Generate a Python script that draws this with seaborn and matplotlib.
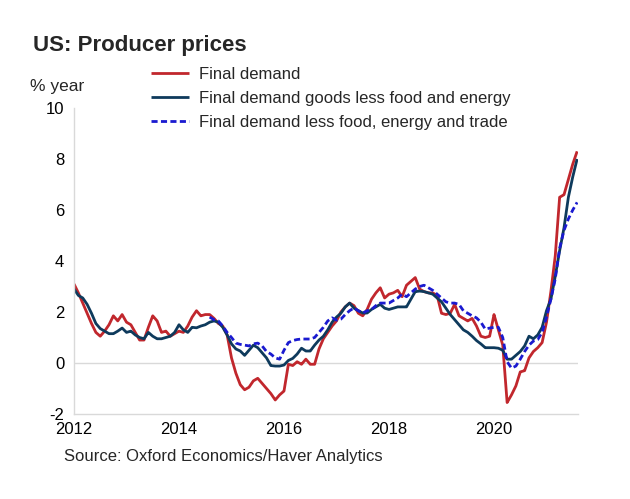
import numpy as np
import pandas as pd
import matplotlib
matplotlib.use("Agg")
import matplotlib.pyplot as plt
import seaborn as sns

# ===============================
# Data (% year, monthly from Jan 2012)
# ===============================

start_year = 2012

final_demand = [
    3.1, 2.75, 2.35, 1.95, 1.55, 1.2, 1.05, 1.25, 1.5, 1.85, 1.65, 1.9,
    1.6, 1.5, 1.2, 0.9, 0.9, 1.4, 1.85, 1.65, 1.2, 1.25, 1.05, 1.15,
    1.25, 1.2, 1.45, 1.8, 2.05, 1.85, 1.9, 1.9, 1.75, 1.55, 1.45, 1.1,
    0.2, -0.4, -0.85, -1.05, -0.95, -0.7, -0.6, -0.8, -1.0, -1.2, -1.45, -1.25,
    -1.1, -0.05, -0.1, 0.05, -0.05, 0.15, -0.05, -0.05, 0.55, 0.95, 1.2, 1.45,
    1.65, 2.0, 2.2, 2.35, 2.25, 1.95, 1.85, 2.1, 2.5, 2.75, 2.95, 2.55,
    2.7, 2.75, 2.85, 2.6, 3.05, 3.2, 3.35, 2.9, 2.8, 2.75, 2.75, 2.65,
    1.95, 1.9, 1.95, 2.3, 1.85, 1.75, 1.65, 1.75, 1.45, 1.05, 1.0, 1.05,
    1.9, 1.3, 0.7, -1.55, -1.25, -0.9, -0.35, -0.3, 0.2, 0.45, 0.6, 0.8,
    1.6, 2.8, 4.2, 6.5, 6.6, 7.2, 7.8, 8.3,
]

goods_less_food_energy = [
    2.9, 2.65, 2.55, 2.3, 1.95, 1.55, 1.35, 1.25, 1.15, 1.15, 1.25, 1.37,
    1.2, 1.25, 1.1, 1.0, 0.95, 1.2, 1.05, 0.95, 0.95, 1.0, 1.05, 1.2,
    1.5, 1.3, 1.2, 1.4, 1.38, 1.45, 1.5, 1.6, 1.65, 1.6, 1.4, 1.1,
    0.75, 0.55, 0.47, 0.3, 0.5, 0.7, 0.6, 0.4, 0.2, -0.1, -0.12, -0.12,
    -0.08, 0.1, 0.18, 0.35, 0.58, 0.47, 0.47, 0.7, 0.9, 1.05, 1.3, 1.6,
    1.8, 1.95, 2.2, 2.35, 2.15, 2.05, 1.96, 1.96, 2.1, 2.2, 2.3, 2.15,
    2.1, 2.15, 2.2, 2.2, 2.2, 2.5, 2.8, 2.82, 2.8, 2.75, 2.7, 2.55,
    2.4, 2.15, 1.9, 1.7, 1.5, 1.3, 1.2, 1.05, 0.88, 0.75, 0.6, 0.6,
    0.6, 0.58, 0.5, 0.15, 0.15, 0.3, 0.45, 0.67, 1.05, 0.95, 1.1, 1.4,
    2.05, 2.5, 3.4, 4.4, 5.3, 6.5, 7.3, 8.0,
]

# series begins in Aug 2014
trade_start_month = 31
less_food_energy_trade = [
    1.8, 1.7, 1.65, 1.45, 1.2,
    1.0, 0.78, 0.73, 0.7, 0.67, 0.75, 0.78, 0.67, 0.45, 0.35, 0.2, 0.15,
    0.5, 0.8, 0.88, 0.92, 0.94, 0.94, 0.94, 1.0, 1.2, 1.4, 1.65, 1.77,
    1.68, 1.72, 1.9, 2.05, 2.16, 2.05, 1.96, 2.05, 2.1, 2.25, 2.35, 2.35,
    2.35, 2.45, 2.55, 2.7, 2.6, 2.75, 2.9, 3.0, 3.05, 2.95, 2.85, 2.7,
    2.55, 2.4, 2.35, 2.35, 2.3, 2.05, 1.95, 1.85, 1.77, 1.6, 1.33, 1.37,
    1.4, 1.4, 1.0, 0.05, -0.2, -0.12, 0.15, 0.45, 0.7, 0.86, 0.92, 1.2,
    1.8, 2.5, 3.3, 4.5, 5.2, 5.65, 6.0, 6.3,
]

series_names = [
    "Final demand",
    "Final demand goods less food and energy",
    "Final demand less food, energy and trade",
]
colors = ["#c1272d", "#0e3a5c", "#1a1ad0"]

x_ticks = [2012, 2014, 2016, 2018, 2020]
y_ticks = [-2, 0, 2, 4, 6, 8, 10]

# ===============================
# Build table
# ===============================

def to_frame(values, first_month, name):
    months = np.arange(first_month, first_month + len(values))
    return pd.DataFrame({
        "date": start_year + months / 12,
        "value": values,
        "series": name,
    })

df = pd.concat([
    to_frame(final_demand, 0, series_names[0]),
    to_frame(goods_less_food_energy, 0, series_names[1]),
    to_frame(less_food_energy_trade, trade_start_month, series_names[2]),
])

# ===============================
# Plot
# ===============================

sns.set_theme(style="white")
plt.rcParams["font.family"] = ["Liberation Sans", "DejaVu Sans"]

fig = plt.figure(figsize=(6.3, 4.99), dpi=100)
ax = fig.add_axes([74 / 630, 1 - 414 / 499, 504 / 630, 306 / 499])

ax.axhline(0, color="#d9d9d9", lw=1, zorder=0)

sns.lineplot(
    data=df,
    x="date",
    y="value",
    hue="series",
    style="series",
    hue_order=series_names,
    style_order=series_names,
    palette=colors,
    dashes=[(1, 0), (1, 0), (2.2, 1.2)],
    linewidth=2,
    ax=ax,
    legend=False,
)

ax.set_xlim(2012, 2021.6)
ax.set_ylim(-2, 10)
ax.set_xticks(x_ticks)
ax.set_xticklabels([str(t) for t in x_ticks])
ax.set_yticks(y_ticks)
ax.set_yticklabels([str(t) for t in y_ticks])
ax.tick_params(axis="both", length=0, labelsize=12, colors="#000000")
ax.tick_params(axis="y", pad=7)
ax.tick_params(axis="x", pad=6)
ax.set_xlabel("")
ax.set_ylabel("")

for side in ["top", "right"]:
    ax.spines[side].set_visible(False)
for side in ["left", "bottom"]:
    ax.spines[side].set_color("#d9d9d9")
    ax.spines[side].set_linewidth(1)

handles = [ax.lines[i + 1] for i in range(3)]
fig.legend(
    handles,
    series_names,
    loc="upper left",
    bbox_to_anchor=(144 / 630, 1 - 60 / 499),
    frameon=False,
    fontsize=12,
    handlelength=2.3,
    handletextpad=0.6,
    labelspacing=0.55,
    borderaxespad=0,
)

fig.text(33 / 630, 1 - 45 / 499, "US: Producer prices",
         fontsize=16, fontweight="bold", va="center")
fig.text(30 / 630, 1 - 86 / 499, "% year", fontsize=12.5, va="center")
fig.text(64 / 630, 1 - 457 / 499, "Source: Oxford Economics/Haver Analytics",
         fontsize=12, va="center")

fig.savefig("out.png", dpi=100)
